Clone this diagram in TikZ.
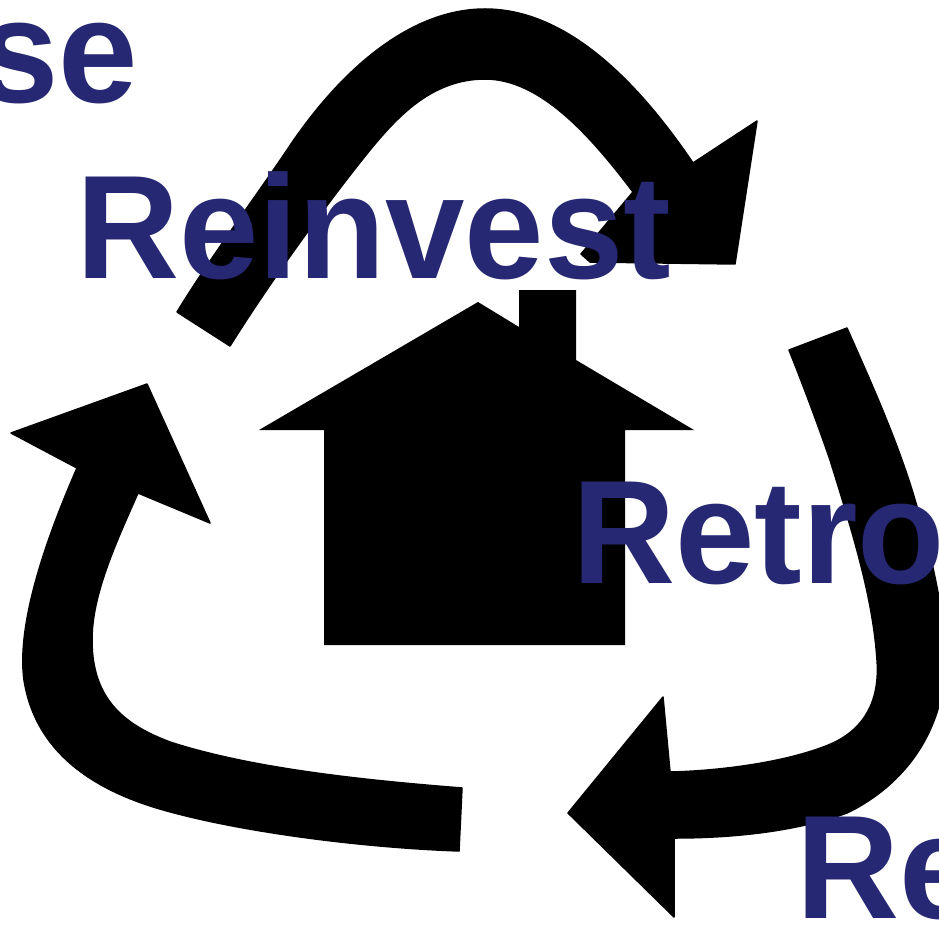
\documentclass[tikz,border=0pt]{standalone}
\usepackage{fontspec}
\setmainfont{Liberation Sans}
\definecolor{labelblue}{RGB}{38,40,116}
\newcommand{\narrowtext}[1]{\scalebox{.968}[1]{#1}}
\tikzset{
  shapefill/.style={fill=black,draw=black,line width=1.5pt,line join=round},
  biglabel/.style={font=\fontsize{147.5}{147.5}\selectfont\bfseries,text=labelblue,inner sep=0pt,anchor=base west}
}
\begin{document}
\begin{tikzpicture}[x=1pt,y=-1pt]
\useasboundingbox (0,0) rectangle (939,925);
\clip (0,0) rectangle (939,925);
\fill[white] (0,0) rectangle (939,925);
% top arrow
\path[shapefill] (177,312)
  .. controls (212,255) and (250,205) .. (287,150)
  .. controls (340,70) and (410,9) .. (485,9)
  .. controls (560,9) and (630,70) .. (693,163)
  -- (757,121) -- (735,264) -- (590,262) -- (581,254) -- (633,192)
  .. controls (590,135) and (540,79) .. (485,79)
  .. controls (430,79) and (395,120) .. (370,150)
  .. controls (320,212) and (265,290) .. (230,346)
  -- cycle;
% right arrow
\path[shapefill] (789,350) -- (847,328)
  .. controls (870,380) and (895,435) .. (913,493)
  .. controls (930,550) and (945,610) .. (945,660)
  .. controls (945,730) and (905,785) .. (847,813)
  .. controls (800,830) and (740,838) .. (674,838)
  -- (674,917) -- (568,813) -- (663,697) -- (670,772)
  .. controls (720,771) and (790,762) .. (833,743)
  .. controls (865,728) and (880,700) .. (877,660)
  .. controls (873,600) and (855,540) .. (830,460)
  .. controls (818,425) and (803,385) .. (789,350)
  -- cycle;
% left arrow
\path[shapefill] (462,788) -- (459,851)
  .. controls (350,847) and (235,830) .. (167,811)
  .. controls (90,790) and (35,750) .. (24,680)
  .. controls (16,620) and (50,530) .. (77,468)
  -- (11,433) -- (147,384) -- (210,523) -- (138,493)
  .. controls (115,545) and (92,595) .. (92,640)
  .. controls (92,700) and (125,725) .. (170,742)
  .. controls (250,768) and (360,780) .. (462,788)
  -- cycle;
% house
\path[fill=black] (259,430) -- (478,302) -- (519,327) -- (519,290) -- (576,290) -- (576,360)
  -- (694,430) -- (625,430) -- (625,645) -- (324,645) -- (324,430) -- cycle;
% labels
\node[biglabel] (use) at (-21,103) {\narrowtext{se}};
\node[biglabel] (reinvest) at (76,278) {\narrowtext{Reinvest}};
\node[biglabel] (retro) at (572,583) {\narrowtext{Retro}};
\node[biglabel] (re) at (796,918) {\narrowtext{Re}};
\end{tikzpicture}
\end{document}
